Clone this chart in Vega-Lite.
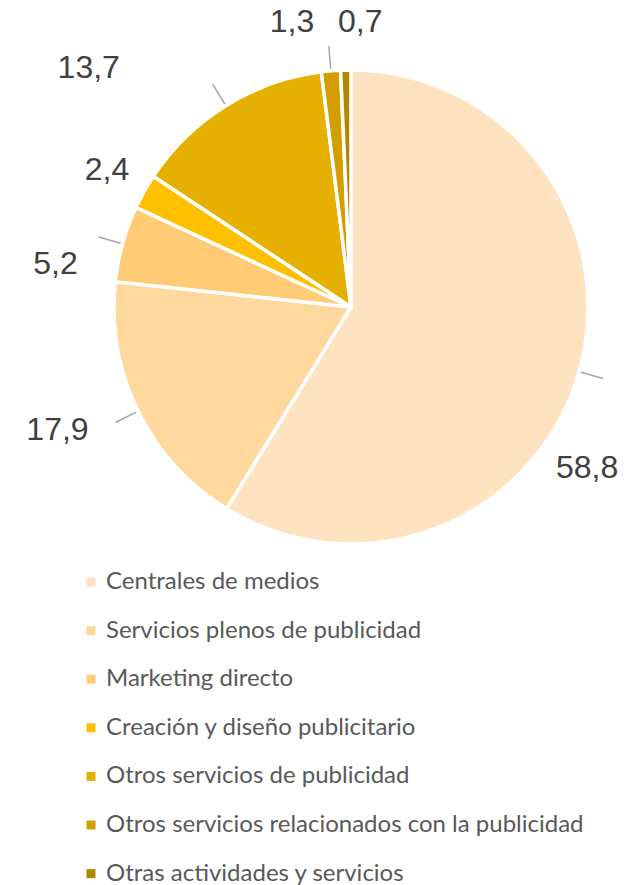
{
  "$schema": "https://vega.github.io/schema/vega-lite/v6.json",
  "width": 474,
  "height": 474,
  "autosize": {"type": "none"},
  "padding": {"left": 114, "top": 70, "right": 47, "bottom": 341},
  "background": "white",
  "config": {"view": {"stroke": null}},
  "data": {
    "values": [
      {"cat": "Centrales de medios", "value": 58.8, "idx": 1},
      {"cat": "Servicios plenos de publicidad", "value": 17.9, "idx": 2},
      {"cat": "Marketing directo", "value": 5.2, "idx": 3},
      {"cat": "Creación y diseño publicitario", "value": 2.4, "idx": 4},
      {"cat": "Otros servicios de publicidad", "value": 13.7, "idx": 5},
      {"cat": "Otros servicios relacionados con la publicidad", "value": 1.3, "idx": 6},
      {"cat": "Otras actividades y servicios", "value": 0.7, "idx": 7}
    ]
  },
  "transform": [
    {"window": [{"op": "sum", "field": "value", "as": "cum"}], "sort": [{"field": "idx"}], "frame": [null, 0]},
    {"calculate": "datum.cum - datum.value / 2", "as": "mid"},
    {"calculate": "replace(format(datum.value, '.1f'), '.', ',')", "as": "label"}
  ],
  "layer": [
    {
      "mark": {"type": "arc", "radius": 237, "stroke": "white", "strokeWidth": 3.5},
      "encoding": {
        "theta": {"field": "value", "type": "quantitative", "stack": true, "scale": {"domain": [0, 100]}},
        "order": {"field": "idx", "type": "quantitative"},
        "color": {
          "field": "cat",
          "type": "nominal",
          "sort": null,
          "scale": {
            "domain": ["Centrales de medios", "Servicios plenos de publicidad", "Marketing directo", "Creación y diseño publicitario", "Otros servicios de publicidad", "Otros servicios relacionados con la publicidad", "Otras actividades y servicios"],
            "range": ["#FFE2C0", "#FFD89E", "#FFCB75", "#FFC000", "#E6B000", "#D29E00", "#B38600"]
          },
          "legend": {
            "title": null,
            "orient": "none",
            "legendX": -35,
            "legendY": 500,
            "padding": 0,
            "symbolType": "square",
            "symbolSize": 81,
            "symbolStrokeWidth": 0,
            "labelFont": "Lato",
            "labelFontSize": 24,
            "labelColor": "#595959",
            "labelOffset": 3,
            "labelLimit": 600,
            "rowPadding": 24.6
          }
        }
      }
    },
    {
      "transform": [{"filter": "datum.idx != 4 && datum.idx != 7"}],
      "mark": {"type": "arc", "radius": 262, "radius2": 239, "stroke": "#A6A6A6", "strokeWidth": 1.5, "fill": null},
      "encoding": {
        "theta": {"field": "mid", "type": "quantitative", "stack": null, "scale": {"domain": [0, 100]}},
        "theta2": {"field": "mid"}
      }
    },
    {
      "transform": [{"filter": "datum.idx == 1"}],
      "mark": {"type": "text", "radius": 260, "dx": -14, "dy": 90, "font": "Liberation Sans", "fontSize": 32, "color": "#404040", "align": "center", "baseline": "middle"},
      "encoding": {"theta": {"field": "mid", "type": "quantitative", "stack": null, "scale": {"domain": [0, 100]}}, "text": {"field": "label"}}
    },
    {
      "transform": [{"filter": "datum.idx == 2"}],
      "mark": {"type": "text", "radius": 260, "dx": -60, "dy": 9, "font": "Liberation Sans", "fontSize": 32, "color": "#404040", "align": "center", "baseline": "middle"},
      "encoding": {"theta": {"field": "mid", "type": "quantitative", "stack": null, "scale": {"domain": [0, 100]}}, "text": {"field": "label"}}
    },
    {
      "transform": [{"filter": "datum.idx == 3"}],
      "mark": {"type": "text", "radius": 260, "dx": -45, "dy": 26, "font": "Liberation Sans", "fontSize": 32, "color": "#404040", "align": "center", "baseline": "middle"},
      "encoding": {"theta": {"field": "mid", "type": "quantitative", "stack": null, "scale": {"domain": [0, 100]}}, "text": {"field": "label"}}
    },
    {
      "transform": [{"filter": "datum.idx == 4"}],
      "mark": {"type": "text", "radius": 260, "dx": -17, "dy": -10, "font": "Liberation Sans", "fontSize": 32, "color": "#404040", "align": "center", "baseline": "middle"},
      "encoding": {"theta": {"field": "mid", "type": "quantitative", "stack": null, "scale": {"domain": [0, 100]}}, "text": {"field": "label"}}
    },
    {
      "transform": [{"filter": "datum.idx == 5"}],
      "mark": {"type": "text", "radius": 260, "dx": -125, "dy": -18, "font": "Liberation Sans", "fontSize": 32, "color": "#404040", "align": "center", "baseline": "middle"},
      "encoding": {"theta": {"field": "mid", "type": "quantitative", "stack": null, "scale": {"domain": [0, 100]}}, "text": {"field": "label"}}
    },
    {
      "transform": [{"filter": "datum.idx == 6"}],
      "mark": {"type": "text", "radius": 260, "dx": -37, "dy": -26, "font": "Liberation Sans", "fontSize": 32, "color": "#404040", "align": "center", "baseline": "middle"},
      "encoding": {"theta": {"field": "mid", "type": "quantitative", "stack": null, "scale": {"domain": [0, 100]}}, "text": {"field": "label"}}
    },
    {
      "transform": [{"filter": "datum.idx == 7"}],
      "mark": {"type": "text", "radius": 260, "dx": 15, "dy": -25, "font": "Liberation Sans", "fontSize": 32, "color": "#404040", "align": "center", "baseline": "middle"},
      "encoding": {"theta": {"field": "mid", "type": "quantitative", "stack": null, "scale": {"domain": [0, 100]}}, "text": {"field": "label"}}
    }
  ]
}
